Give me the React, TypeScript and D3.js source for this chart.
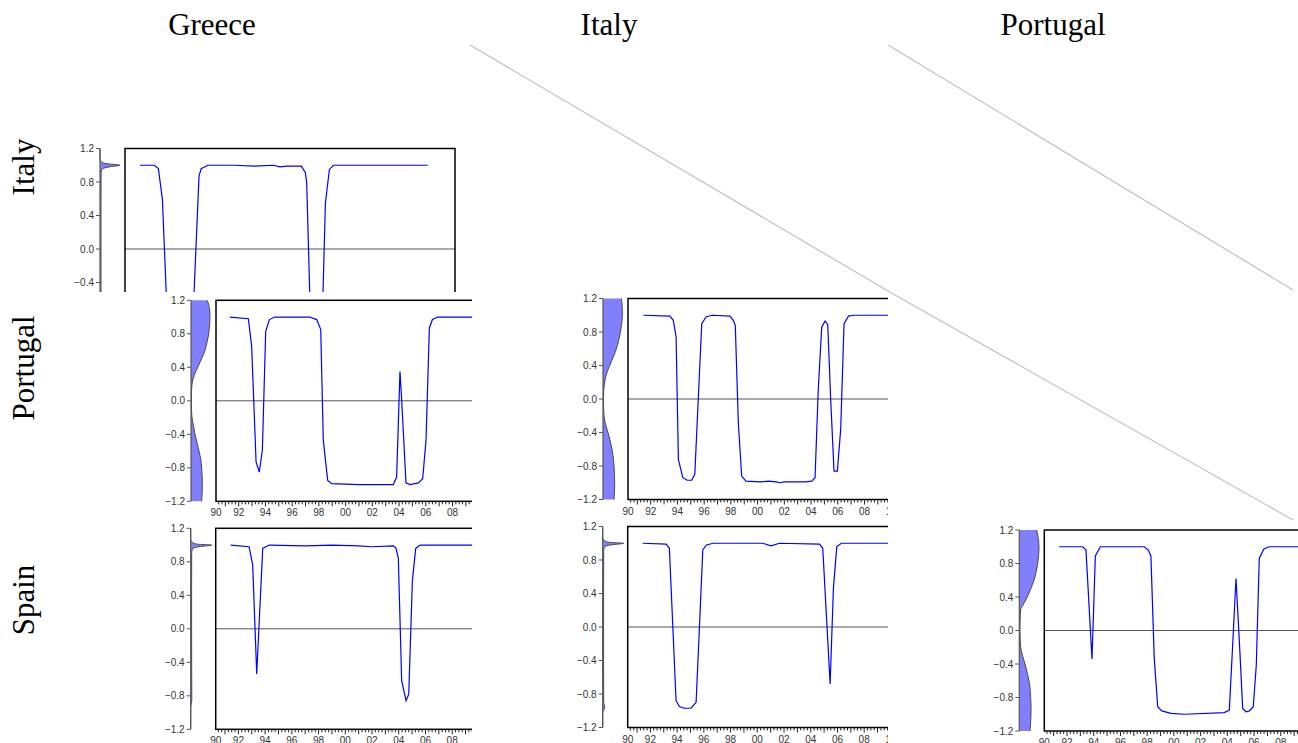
import React from "react";
import * as d3 from "d3";

type Pt = [number, number];

// ---------- data ----------
const COLUMN_TITLES = ["Greece", "Italy", "Portugal"];
const ROW_TITLES = ["Italy", "Portugal", "Spain"];
const Y_TICKS = [1.2, 0.8, 0.4, 0.0, -0.4, -0.8, -1.2];
const X_LABEL_YEARS = [1990, 1992, 1994, 1996, 1998, 2000, 2002, 2004, 2006, 2008, 2010];
const X_DOMAIN: Pt = [1990.3, 2015];
const Y_DOMAIN: Pt = [-1.2, 1.2];

// series: [year, value]
const ITALY_GREECE: Pt[] = [
  [1991.42, 1.0], [1992.5, 1.0], [1992.8, 0.96], [1993.1, 0.59], [1993.5, -0.97], [1993.75, -1.0],
  [1995.0, -1.0], [1995.38, -0.85], [1995.84, 0.87], [1996.0, 0.96], [1996.5, 1.0], [1998.5, 1.0],
  [2000.0, 0.99], [2001.4, 1.0], [2001.9, 0.98], [2002.4, 0.99], [2003.5, 0.99], [2003.8, 0.91],
  [2003.9, 0.79], [2004.2, -0.95], [2004.6, -1.0], [2005.05, -0.95], [2005.3, 0.55], [2005.6, 0.95],
  [2005.9, 1.0], [2012.96, 1.0],
];
const PORTUGAL_GREECE: Pt[] = [
  [1991.35, 1.0], [1992.72, 0.98], [1992.97, 0.65], [1993.3, -0.73], [1993.54, -0.85], [1993.77, -0.59],
  [1994.02, 0.83], [1994.3, 0.97], [1994.7, 1.0], [1997.3, 1.0], [1997.84, 0.97], [1998.14, 0.85],
  [1998.33, -0.47], [1998.66, -0.95], [1998.96, -0.99], [2001.0, -1.0], [2003.57, -1.0], [2003.82, -0.91],
  [2004.07, 0.35], [2004.2, 0.0], [2004.52, -0.98], [2004.82, -1.0], [2005.45, -0.98], [2005.77, -0.93],
  [2006.02, -0.47], [2006.27, 0.87], [2006.5, 0.97], [2006.9, 1.0], [2012.96, 1.0],
];
const PORTUGAL_ITALY: Pt[] = [
  [1991.45, 1.0], [1993.44, 0.99], [1993.69, 0.94], [1993.9, 0.74], [1994.07, -0.72], [1994.4, -0.94],
  [1994.74, -0.97], [1995.07, -0.97], [1995.3, -0.9], [1995.56, 0.0], [1995.82, 0.9], [1996.14, 0.98],
  [1996.6, 1.0], [1997.93, 0.99], [1998.18, 0.94], [1998.33, 0.88], [1998.56, -0.29], [1998.81, -0.92],
  [1999.13, -0.98], [2000.2, -0.99], [2000.8, -0.98], [2001.4, -0.99], [2001.68, -1.0], [2002.0, -0.99],
  [2003.6, -0.99], [2004.05, -0.98], [2004.3, -0.94], [2004.54, 0.11], [2004.8, 0.86], [2005.05, 0.93],
  [2005.25, 0.89], [2005.47, 0.0], [2005.72, -0.86], [2005.97, -0.86], [2006.22, -0.36], [2006.47, 0.9],
  [2006.8, 0.99], [2007.2, 1.0], [2012.96, 1.0],
];
const SPAIN_GREECE: Pt[] = [
  [1991.42, 1.0], [1992.8, 0.98], [1993.07, 0.76], [1993.37, -0.54], [1993.82, 0.96], [1994.3, 1.0],
  [1997.0, 0.99], [1999.0, 1.0], [2001.0, 0.99], [2002.0, 0.98], [2003.6, 0.99], [2003.8, 0.96],
  [2003.97, 0.84], [2004.22, -0.62], [2004.55, -0.86], [2004.75, -0.78], [2005.02, 0.57], [2005.27, 0.96],
  [2005.6, 1.0], [2012.96, 1.0],
];
const SPAIN_ITALY: Pt[] = [
  [1991.42, 1.0], [1993.17, 0.99], [1993.42, 0.94], [1993.92, -0.88], [1994.17, -0.95], [1994.54, -0.97],
  [1995.04, -0.97], [1995.42, -0.9], [1995.67, 0.0], [1995.92, 0.92], [1996.2, 0.98], [1996.7, 1.0],
  [2000.4, 1.0], [2001.03, 0.97], [2001.66, 1.0], [2004.65, 0.99], [2004.9, 0.94], [2005.45, -0.68],
  [2005.7, 0.47], [2005.95, 0.96], [2006.3, 1.0], [2012.96, 1.0],
];
const SPAIN_PORTUGAL: Pt[] = [
  [1991.42, 1.0], [1993.17, 1.0], [1993.42, 0.96], [1993.87, -0.34], [1994.12, 0.89], [1994.5, 1.0],
  [1997.78, 1.0], [1998.08, 0.96], [1998.28, 0.89], [1998.53, -0.33], [1998.79, -0.91], [1999.09, -0.96],
  [1999.78, -0.99], [2000.8, -1.0], [2003.77, -0.98], [2004.15, -0.95], [2004.4, -0.17], [2004.65, 0.62],
  [2004.9, -0.13], [2005.15, -0.93], [2005.4, -0.97], [2005.65, -0.96], [2005.94, -0.91], [2006.17, -0.41],
  [2006.39, 0.86], [2006.72, 0.97], [2007.1, 1.0], [2012.96, 1.0],
];

// kernel densities: [value, density]
const ITALY_GREECE_DENSITY: Pt[] = [
  [1.2, 0], [1.08, 0], [1.04, 1.5], [1.02, 6], [1.0, 20], [0.98, 9], [0.96, 3], [0.93, 1.3], [0.9, 1.1],
  [0.6, 1], [0.2, 1], [-0.2, 1], [-0.6, 1], [-0.9, 1.1], [-1.0, 1.2], [-1.06, 0], [-1.2, 0],
];
const PORTUGAL_GREECE_DENSITY: Pt[] = [
  [1.2, 16.3], [1.1, 18.5], [1.0, 19], [0.9, 18.5], [0.8, 17.7], [0.7, 16], [0.6, 14], [0.5, 10.5],
  [0.4, 6.7], [0.3, 3], [0.2, 1], [0.1, 0.5], [0, 0.4], [-0.1, 0.5], [-0.2, 1], [-0.3, 2.5], [-0.4, 4],
  [-0.5, 6], [-0.6, 8], [-0.7, 9.8], [-0.8, 10.7], [-0.9, 11.2], [-1.0, 11.3], [-1.1, 11.1], [-1.2, 10.7],
];
const PORTUGAL_ITALY_DENSITY: Pt[] = [
  [1.2, 18.4], [1.1, 19.2], [1.0, 19.4], [0.9, 18.7], [0.8, 17.4], [0.7, 15.7], [0.6, 13.4], [0.5, 10.2],
  [0.4, 6.7], [0.3, 3.5], [0.2, 1.7], [0.1, 0.7], [0, 0.4], [-0.1, 0.6], [-0.2, 1], [-0.3, 2.5], [-0.4, 5],
  [-0.5, 7.2], [-0.6, 9], [-0.7, 10.3], [-0.8, 11], [-0.9, 11.5], [-1.0, 11.7], [-1.1, 11.5], [-1.2, 11],
];
const SPAIN_GREECE_DENSITY: Pt[] = [
  [1.2, 0], [1.07, 0], [1.03, 2], [1.01, 7], [1.0, 21], [0.98, 8], [0.96, 2.5], [0.93, 1.2], [0.9, 1],
  [0.5, 0.9], [0, 0.9], [-0.5, 1], [-0.85, 1.1], [-0.9, 0.4], [-0.95, 0], [-1.2, 0],
];
const SPAIN_ITALY_DENSITY: Pt[] = [
  [1.2, 0], [1.07, 0], [1.03, 2], [1.01, 7], [1.0, 21], [0.98, 8], [0.96, 2.5], [0.93, 1.2], [0.9, 1],
  [0.5, 0.9], [0, 0.9], [-0.5, 0.9], [-0.9, 1], [-0.95, 2], [-0.98, 1.5], [-1.02, 0], [-1.2, 0],
];
const SPAIN_PORTUGAL_DENSITY: Pt[] = [
  [1.2, 17.4], [1.1, 19], [1.0, 19.7], [0.9, 19.3], [0.8, 18.4], [0.7, 16.8], [0.6, 14.7], [0.5, 11.5],
  [0.4, 8], [0.3, 3.5], [0.25, 1.4], [0.1, 0.8], [0, 0.7], [-0.1, 0.9], [-0.2, 1.4], [-0.3, 3.2],
  [-0.4, 5.7], [-0.5, 7.8], [-0.6, 9.7], [-0.7, 10.8], [-0.8, 11.4], [-0.9, 11.7], [-1.0, 11.7],
  [-1.1, 11.3], [-1.2, 10.7],
];

// ---------- layout ----------
const W = 1298;
const H = 743;
const FRAME_W = 330;
const PLOT_H = 201;
const AXIS_GAP = 25;

type PanelCfg = {
  id: string;
  series: Pt[];
  density: Pt[];
  axisX: number;
  top: number;
  clip: [number, number, number, number];
};

const PANELS: PanelCfg[] = [
  { id: "itgr", series: ITALY_GREECE, density: ITALY_GREECE_DENSITY, axisX: 100, top: 148.5, clip: [0, 0, 472, 292] },
  { id: "ptgr", series: PORTUGAL_GREECE, density: PORTUGAL_GREECE_DENSITY, axisX: 191, top: 300.3, clip: [0, 292, 472, 228] },
  { id: "ptit", series: PORTUGAL_ITALY, density: PORTUGAL_ITALY_DENSITY, axisX: 603, top: 298.5, clip: [472, 292, 416, 228] },
  { id: "esgr", series: SPAIN_GREECE, density: SPAIN_GREECE_DENSITY, axisX: 190.7, top: 528.3, clip: [0, 520, 472, 223] },
  { id: "esit", series: SPAIN_ITALY, density: SPAIN_ITALY_DENSITY, axisX: 602.7, top: 526.5, clip: [472, 520, 416, 223] },
  { id: "espt", series: SPAIN_PORTUGAL, density: SPAIN_PORTUGAL_DENSITY, axisX: 1019.3, top: 530, clip: [888, 520, 410, 223] },
];

const COL_TITLE_X = [212, 609, 1053];
const ROW_TITLE_Y = [167, 368, 600];
const DIAGONALS: [number, number, number, number][] = [
  [470, 45, 888, 291],
  [888, 45, 1293, 290],
  [888, 291, 1293, 520],
];

const LABEL_FONT = "'Liberation Sans', Arial, sans-serif";
const TITLE_FONT = "'Liberation Serif', 'Times New Roman', serif";

function fmt(v: number) {
  return d3.format(".1f")(v);
}

function Panel({ cfg }: { cfg: PanelCfg }) {
  const frameLeft = cfg.axisX + AXIS_GAP;
  const frameRight = frameLeft + FRAME_W;
  const bottom = cfg.top + PLOT_H;
  const x = d3.scaleLinear().domain(X_DOMAIN).range([frameLeft, frameRight]);
  const y = d3.scaleLinear().domain(Y_DOMAIN).range([bottom, cfg.top]);
  const dens = d3.scaleLinear().domain([0, 20]).range([0, 20]);

  const line = d3.line<Pt>().x((d) => x(d[0])).y((d) => y(d[1]));
  const area = d3
    .area<Pt>()
    .y((d) => y(d[0]))
    .x0(cfg.axisX)
    .x1((d) => cfg.axisX + dens(d[1]))
    .curve(d3.curveMonotoneY);
  const edge = d3
    .line<Pt>()
    .y((d) => y(d[0]))
    .x((d) => cfg.axisX + dens(d[1]))
    .curve(d3.curveMonotoneY);

  const quarters: number[] = [];
  for (let q = 1990; q <= 2015; q += 0.25) {
    if (q >= X_DOMAIN[0] - 1e-6 && q <= X_DOMAIN[1] + 1e-6) quarters.push(q);
  }

  return (
    <g clipPath={`url(#clip-${cfg.id})`}>
      {/* density */}
      <path d={area(cfg.density) || ""} fill="#8080ff" stroke="none" />
      <path d={edge(cfg.density) || ""} fill="none" stroke="#4a4a4a" strokeWidth={1} />
      <line x1={cfg.axisX} x2={cfg.axisX} y1={cfg.top} y2={bottom} stroke="#555" strokeWidth={1.2} />
      {Y_TICKS.map((t) => (
        <g key={t}>
          <line x1={cfg.axisX - 4} x2={cfg.axisX} y1={y(t)} y2={y(t)} stroke="#555" strokeWidth={1} />
          <text
            x={cfg.axisX - 6}
            y={y(t)}
            dy="0.35em"
            textAnchor="end"
            fontFamily={LABEL_FONT}
            fontSize={10}
            fill="#333"
          >
            {fmt(t)}
          </text>
        </g>
      ))}
      {/* zero line */}
      <line x1={frameLeft} x2={frameRight} y1={y(0)} y2={y(0)} stroke="#555" strokeWidth={1} />
      {/* series */}
      <path d={line(cfg.series) || ""} fill="none" stroke="#0000ff" strokeWidth={1.2} />
      {/* frame */}
      <rect x={frameLeft} y={cfg.top} width={FRAME_W} height={PLOT_H} fill="none" stroke="#000" strokeWidth={1.5} />
      {/* x axis ticks */}
      {quarters.map((q) => {
        const major = Math.abs(q - Math.round(q)) < 1e-6;
        return (
          <line
            key={q}
            x1={x(q)}
            x2={x(q)}
            y1={bottom}
            y2={bottom + (major ? 5 : 3)}
            stroke="#222"
            strokeWidth={1}
          />
        );
      })}
      {X_LABEL_YEARS.map((yr) => (
        <text
          key={yr}
          x={Math.max(x(yr), frameLeft)}
          y={bottom + 15}
          textAnchor="middle"
          fontFamily={LABEL_FONT}
          fontSize={10}
          fill="#333"
        >
          {String(yr % 100).padStart(2, "0")}
        </text>
      ))}
    </g>
  );
}

export default function App() {
  return (
    <svg
      width={W}
      height={H}
      viewBox={`0 0 ${W} ${H}`}
      style={{ position: "absolute", left: 0, top: 0, background: "#fff" }}
    >
      <defs>
        {PANELS.map((p) => (
          <clipPath id={`clip-${p.id}`} key={p.id}>
            <rect x={p.clip[0]} y={p.clip[1]} width={p.clip[2]} height={p.clip[3]} />
          </clipPath>
        ))}
      </defs>
      <rect x={0} y={0} width={W} height={H} fill="#fff" />
      {COLUMN_TITLES.map((t, i) => (
        <text key={t} x={COL_TITLE_X[i]} y={35} textAnchor="middle" fontFamily={TITLE_FONT} fontSize={31} fill="#000">
          {t}
        </text>
      ))}
      {ROW_TITLES.map((t, i) => (
        <text
          key={t}
          transform={`translate(34,${ROW_TITLE_Y[i]}) rotate(-90)`}
          textAnchor="middle"
          fontFamily={TITLE_FONT}
          fontSize={31}
          fill="#000"
        >
          {t}
        </text>
      ))}
      {DIAGONALS.map((d, i) => (
        <line key={i} x1={d[0]} y1={d[1]} x2={d[2]} y2={d[3]} stroke="#c0c0c0" strokeWidth={1.2} />
      ))}
      {PANELS.map((p) => (
        <Panel key={p.id} cfg={p} />
      ))}
    </svg>
  );
}
